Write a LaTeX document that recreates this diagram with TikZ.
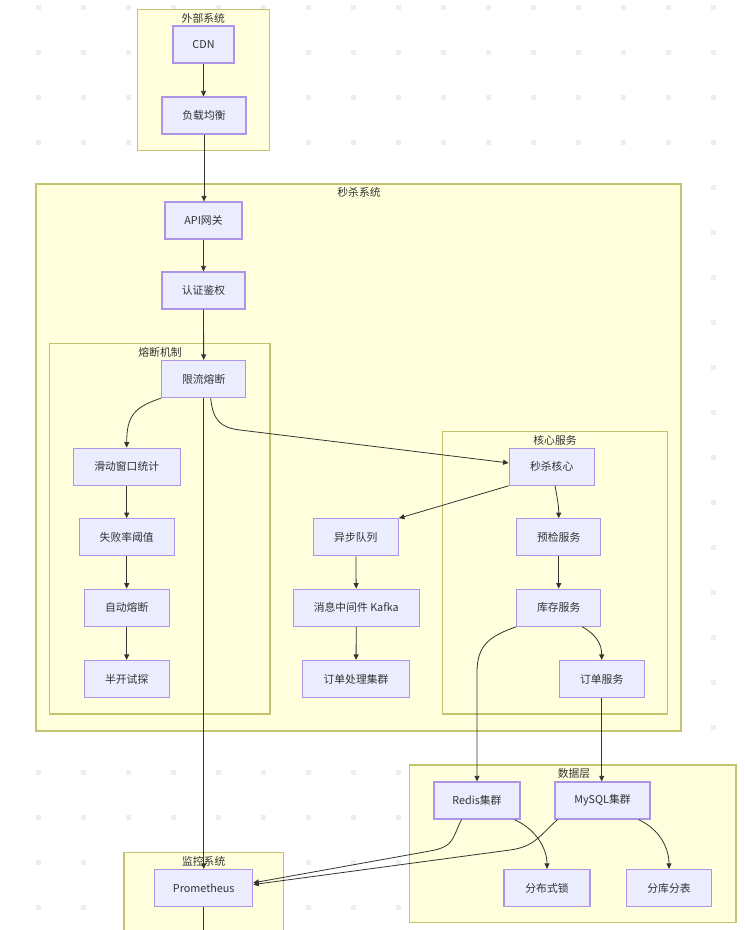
\documentclass[tikz,border=0pt]{standalone}
\usepackage{fontspec}
\setmainfont{Noto Sans CJK SC}
\usetikzlibrary{arrows.meta}
\definecolor{nodefill}{HTML}{ECECFF}
\definecolor{nodeline}{HTML}{9370DB}
\definecolor{grpfill}{HTML}{FFFFDE}
\definecolor{grpline}{HTML}{AAAA33}
\definecolor{ink}{HTML}{333333}
\definecolor{dotgray}{HTML}{EEEEEE}

\begin{document}
\begin{tikzpicture}[x=1pt,y=-1pt,
    font=\fontsize{10.8}{12}\selectfont,
    box/.style={draw=nodeline!75,fill=nodefill,line width=1.2pt,minimum height=37,inner sep=0pt,text=ink},
    group/.style={draw=grpline!70,fill=grpfill,line width=1.2pt},
    grptitle/.style={inner sep=0pt,text=ink},
    flow/.style={draw=ink,line width=0.8pt,-{Triangle[length=5.5pt,width=5pt]}}]
  \useasboundingbox (0,0) rectangle (745,930);
  \foreach \i in {0,...,15}
    \foreach \j in {0,...,20}
      \fill[dotgray] (36+45*\i,5+45*\j) rectangle +(5,4.5);

  % clusters
  \draw[group] (137.3,9.3) rectangle (269.3,150.7);
  \node[grptitle] (exttitle) at (203.3,18.5) {外部系统};
  \draw[group] (36,184) rectangle (681,731);
  \node[grptitle] (seckilltitle) at (359,192.5) {秒杀系统};
  \draw[group] (49.3,343.3) rectangle (270,714);
  \node[grptitle] (breakertitle) at (160,352.5) {熔断机制};
  \draw[group] (442.7,431.7) rectangle (667.7,714);
  \node[grptitle] (coretitle) at (555,440.5) {核心服务};
  \draw[group] (409.5,765) rectangle (736,922.5);
  \node[grptitle] (datatitle) at (574,773.5) {数据层};
  \draw[group] (124,852.7) rectangle (283.5,945);
  \node[grptitle] (montitle) at (203.7,861) {监控系统};

  % nodes
  \node[box,minimum width=61] (cdn) at (203.5,44.5) {CDN};
  \node[box,minimum width=84] (lb) at (204,115.5) {负载均衡};
  \node[box,minimum width=77] (gw) at (203.5,220.5) {API网关};
  \node[box,minimum width=83] (auth) at (203.5,290.5) {认证鉴权};
  \node[box,minimum width=84] (limit) at (203.7,379) {限流熔断};
  \node[box,minimum width=107] (window) at (126.7,466.7) {滑动窗口统计};
  \node[box,minimum width=95] (failrate) at (126.7,537.3) {失败率阈值};
  \node[box,minimum width=85] (autobreak) at (126.7,607.7) {自动熔断};
  \node[box,minimum width=85] (halfopen) at (126.7,679) {半开试探};
  \node[box,minimum width=85] (queue) at (355.8,537.3) {异步队列};
  \node[box,minimum width=126] (kafka) at (356.3,607.7) {消息中间件 Kafka};
  \node[box,minimum width=107] (ordercluster) at (356,679) {订单处理集群};
  \node[box,minimum width=85] (core) at (551.7,466.7) {秒杀核心};
  \node[box,minimum width=84] (precheck) at (558.7,537.3) {预检服务};
  \node[box,minimum width=84] (stock) at (558.7,607.7) {库存服务};
  \node[box,minimum width=85] (order) at (601.7,679) {订单服务};
  \node[box,minimum width=86] (redis) at (477,800.5) {Redis集群};
  \node[box,minimum width=95] (mysql) at (602.5,800.5) {MySQL集群};
  \node[box,minimum width=86] (lock) at (547,888) {分布式锁};
  \node[box,minimum width=85] (shard) at (669,888) {分库分表};
  \node[box,minimum width=98] (prom) at (203.7,888) {Prometheus};
  \coordinate (promtail) at (203.7,945);

  % edges
  \draw[flow] (cdn.south) -- (cdn.south |- lb.north);
  \draw[flow] (lb.south) -- (lb.south |- gw.north);
  \draw[flow] (gw) -- (auth);
  \draw[flow] (auth) -- (limit);
  \draw[flow] (limit.south west) .. controls (135,407) and (126.7,415) .. (window.north);
  \draw[flow] (limit.-70) .. controls (213,420) and (220,427.6) .. (240,430) -- (core.175);
  \draw[flow] (limit.south) -- (prom.north);
  \draw[flow] (window) -- (failrate);
  \draw[flow] (failrate) -- (autobreak);
  \draw[flow] (autobreak) -- (halfopen);
  \draw[flow] (core.south west) -- (queue.north east);
  \draw[flow] (queue) -- (kafka);
  \draw[flow] (kafka) -- (ordercluster);
  \draw[flow] (core.-80) .. controls +(2,12) and +(0,-14) .. (precheck.north);
  \draw[flow] (precheck) -- (stock);
  \draw[flow] (stock.-39) .. controls +(14,8) and +(0,-16) .. (order.north);
  \draw[flow] (stock.south west) .. controls (490,636) and (477,645) .. (477,672) -- (redis.north);
  \draw[flow] (order.south) -- (order.south |- mysql.north);
  \draw[flow] (redis.-27) .. controls +(22,10) and +(0,-20) .. (lock.north);
  \draw[flow] (mysql.-28) .. controls +(22,10) and +(0,-20) .. (shard.north);
  \draw[flow] (redis.-129) .. controls (452,838) and (455,846.5) .. (430,851) -- (prom.6);
  \draw[flow] (mysql.-157) .. controls (540,835) and (535,846.6) .. (510,850) -- (prom.4);
  \draw[ink,line width=0.8pt] (prom.south) -- (promtail);
\end{tikzpicture}
\end{document}
